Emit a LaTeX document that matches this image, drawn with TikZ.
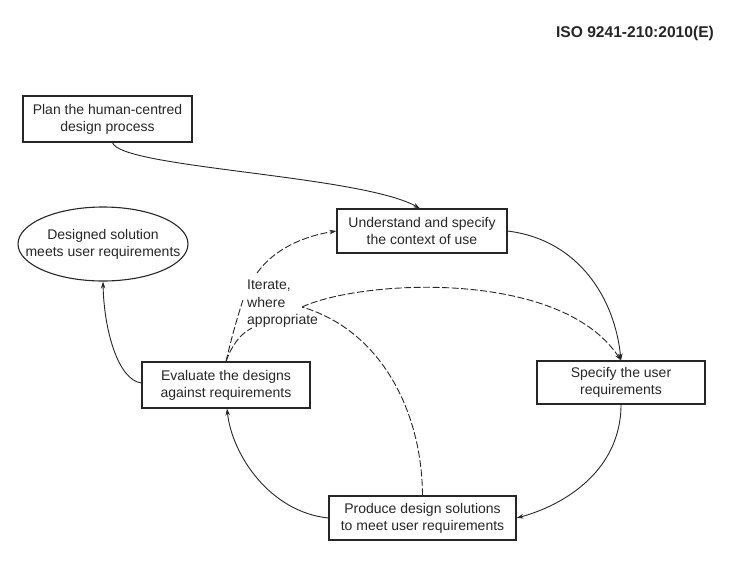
\documentclass[tikz,border=0pt]{standalone}
\usepackage{fontspec}
\setmainfont{Liberation Sans}
\usetikzlibrary{shapes.geometric,arrows.meta}
\definecolor{ink}{HTML}{262626}
\begin{document}
\begin{tikzpicture}[x=1pt,y=1pt,
  txt/.style={font=\fontsize{14}{17}\selectfont, text=ink},
  stepbox/.style={txt, draw=ink, line width=1.1pt, align=center, inner sep=0pt},
  flow/.style={draw=ink, line width=0.9pt, -{Stealth[length=7pt,width=4.5pt]}},
  plain/.style={draw=ink, line width=0.9pt},
  iter/.style={plain, dash pattern=on 7pt off 2.5pt},
  iterarrow/.style={flow, dash pattern=on 7pt off 2.5pt}]
\useasboundingbox (0,0) rectangle (746,-563);

% header
\node[txt, font=\bfseries\fontsize{15.6}{18}\selectfont] (hdr) at (635,-33) {ISO 9241-210:2010(E)};

% activities
\node[stepbox, minimum width=169pt, minimum height=46pt] (plan) at (107.5,-119) {Plan the human-centred\\design process};
\node[stepbox, minimum width=170pt, minimum height=44pt] (understand) at (422,-231) {Understand and specify\\the context of use};
\node[stepbox, minimum width=168pt, minimum height=43pt] (specify) at (621,-382.5) {Specify the user\\requirements};
\node[stepbox, minimum width=187pt, minimum height=44pt] (produce) at (422.5,-518) {Produce design solutions\\to meet user requirements};
\node[stepbox, minimum width=168pt, minimum height=46pt] (evaluate) at (226,-385) {Evaluate the designs\\against requirements};

% outcome
\node[ellipse, draw=ink, line width=1.1pt, minimum width=170pt, minimum height=74pt, inner sep=0pt,
      label={[txt, align=center]center:Designed solution\\meets user requirements}] (goal) at (103,-244) {};

% iteration label
\node[txt, align=left, inner sep=0pt, anchor=north west, font=\fontsize{14}{17.5}\selectfont] (note) at (247,-280) {Iterate,\\where\\appropriate};
\coordinate (ia1) at (243,-300);
\coordinate (ia2) at (257,-273);
\coordinate (ib1) at (252,-328);
\coordinate (ib2) at (302,-307);

% main cycle
\draw[flow] ([xshift=5pt]plan.south) .. controls (120,-168) and (360,-175) .. ([xshift=-2pt]understand.north);
\draw[flow] (understand.east) .. controls (580,-240) and (615,-300) .. (specify.north);
\draw[flow] (specify.south) .. controls (621,-470) and (565,-505) .. (produce.east);
\draw[flow] (produce.west) .. controls (270,-512) and (232,-455) .. ([xshift=1pt]evaluate.south);
\draw[flow] ([yshift=2pt]evaluate.west) .. controls (118,-380) and (104,-330) .. (goal.south);

% iteration paths
\draw[iter] (evaluate.north) .. controls (231,-340) and (237,-318) .. (ia1);
\draw[iterarrow] (ia2) .. controls (275,-248) and (305,-236) .. (understand.west);
\draw[iter] (evaluate.north) .. controls (232,-345) and (240,-334) .. (ib1);
\draw[iterarrow] (ib2) .. controls (360,-280) and (560,-268) .. (specify.north);
\draw[iter] (produce.north) .. controls (422,-410) and (380,-330) .. (ib2);
\end{tikzpicture}
\end{document}
